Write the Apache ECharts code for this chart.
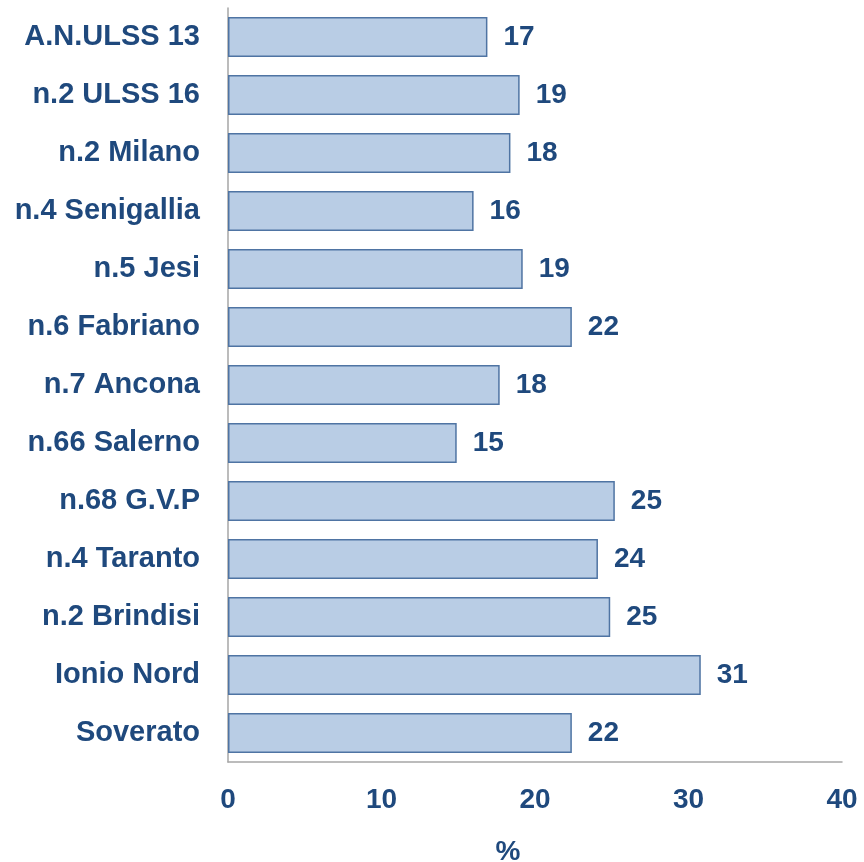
<!DOCTYPE html>
<html><head><meta charset="utf-8">
<script src="https://cdn.jsdelivr.net/npm/echarts@6/dist/echarts.min.js"></script>
<style>html,body{margin:0;padding:0;background:#fff}#c{width:864px;height:862px}</style>
</head><body><div id="c"></div>
<script>
const categories = ["A.N.ULSS 13","n.2 ULSS 16","n.2 Milano","n.4 Senigallia","n.5 Jesi","n.6 Fabriano","n.7 Ancona","n.66 Salerno","n.68 G.V.P","n.4 Taranto","n.2 Brindisi","Ionio Nord","Soverato"];
const values = [16.9, 19.0, 18.4, 16.0, 19.2, 22.4, 17.7, 14.9, 25.2, 24.1, 24.9, 30.8, 22.4];
const xTicks = [0, 10, 20, 30, 40];
const textColor = '#1f497d';
const font = 'Liberation Sans';
const chart = echarts.init(document.getElementById('c'));
chart.setOption({
  animation: false,
  grid: {left: 228, right: 22, top: 8, bottom: 100, containLabel: false, outerBoundsMode: 'none'},
  xAxis: {
    type: 'value', min: xTicks[0], max: xTicks[xTicks.length-1], interval: 10,
    name: '%', nameLocation: 'middle', nameGap: 76,
    nameTextStyle: {color: textColor, fontSize: 28, fontWeight: 'bold', fontFamily: font, padding: [0, 54, 0, 0]},
    axisLine: {show: true, lineStyle: {color: '#a6a6a6', width: 1.5}},
    axisTick: {show: false},
    splitLine: {show: false},
    axisLabel: {color: textColor, fontSize: 28, fontWeight: 'bold', fontFamily: font, margin: 24}
  },
  yAxis: {
    type: 'category', data: categories, inverse: true,
    axisLine: {show: true, lineStyle: {color: '#a6a6a6', width: 1.5}},
    axisTick: {show: false},
    axisLabel: {color: textColor, fontSize: 29, fontWeight: 'bold', fontFamily: font, margin: 28}
  },
  series: [{
    type: 'bar', data: values, barWidth: 40,
    itemStyle: {color: '#b9cde5', borderColor: '#4f74a3', borderWidth: 1.5},
    label: {show: true, position: 'right', distance: 16, color: textColor, fontSize: 28, fontWeight: 'bold', fontFamily: font,
      formatter: p => Math.round(p.value)}
  }]
});
</script></body></html>
